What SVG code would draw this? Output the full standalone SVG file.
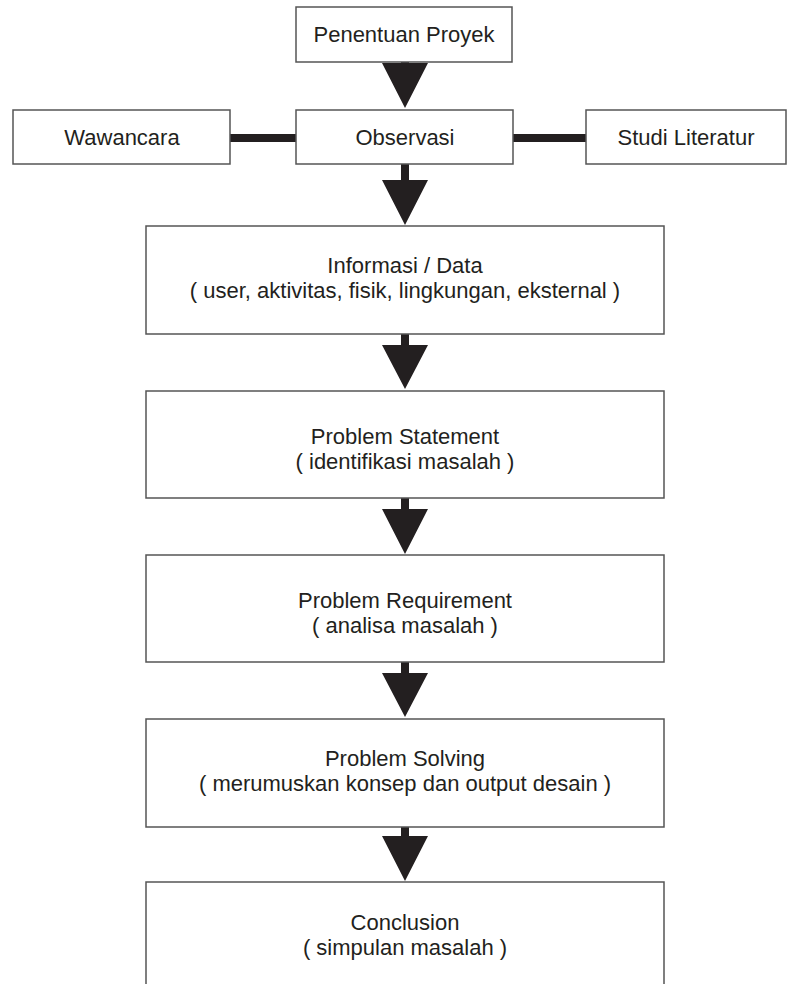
<svg xmlns="http://www.w3.org/2000/svg" width="788" height="984" viewBox="0 0 788 984">
<style>
.box{fill:#fff;stroke:#555;stroke-width:1.5}
.t{font-family:"Liberation Sans",Arial,sans-serif;font-size:22px;fill:#231f20;text-anchor:middle}
.ar{fill:#231f20}
.ln{stroke:#231f20;stroke-width:8}
</style>
<rect width="788" height="984" fill="#fff"/>
<g id="connectors">
<line class="ln" x1="230" y1="138" x2="296" y2="138"/>
<line class="ln" x1="513" y1="138" x2="586" y2="138"/>
<path class="ar" d="M401,62h8v1h19l-23,45l-23,-45h19z"/>
<path class="ar" d="M401,164h8v16h19l-23,45l-23,-45h19z"/>
<path class="ar" d="M401,328h8v17h19l-23,44l-23,-44h19z"/>
<path class="ar" d="M401,492h8v17h19l-23,45l-23,-45h19z"/>
<path class="ar" d="M401,656h8v17h19l-23,44l-23,-44h19z"/>
<path class="ar" d="M401,820h8v16h19l-23,45l-23,-45h19z"/>
</g>
<g id="penentuan"><rect class="box" x="296" y="7" width="216" height="55"/><text class="t" x="404" y="42">Penentuan Proyek</text></g>
<g id="wawancara"><rect class="box" x="13" y="110" width="217" height="54"/><text class="t" x="122" y="145">Wawancara</text></g>
<g id="observasi"><rect class="box" x="296" y="110" width="217" height="54"/><text class="t" x="405" y="145">Observasi</text></g>
<g id="studi"><rect class="box" x="586" y="110" width="200" height="54"/><text class="t" x="686" y="145">Studi Literatur</text></g>
<g id="informasi"><rect class="box" x="146" y="226" width="518" height="108"/><text class="t" x="405" y="273">Informasi / Data</text><text class="t" x="405" y="298">( user, aktivitas, fisik, lingkungan, eksternal )</text></g>
<g id="statement"><rect class="box" x="146" y="391" width="518" height="107"/><text class="t" x="405" y="444">Problem Statement</text><text class="t" x="405" y="469">( identifikasi masalah )</text></g>
<g id="requirement"><rect class="box" x="146" y="555" width="518" height="107"/><text class="t" x="405" y="608">Problem Requirement</text><text class="t" x="405" y="633">( analisa masalah )</text></g>
<g id="solving"><rect class="box" x="146" y="719" width="518" height="108"/><text class="t" x="405" y="766">Problem Solving</text><text class="t" x="405" y="791">( merumuskan konsep dan output desain )</text></g>
<g id="conclusion"><rect class="box" x="146" y="882" width="518" height="110"/><text class="t" x="405" y="930">Conclusion</text><text class="t" x="405" y="955">( simpulan masalah )</text></g>
</svg>
